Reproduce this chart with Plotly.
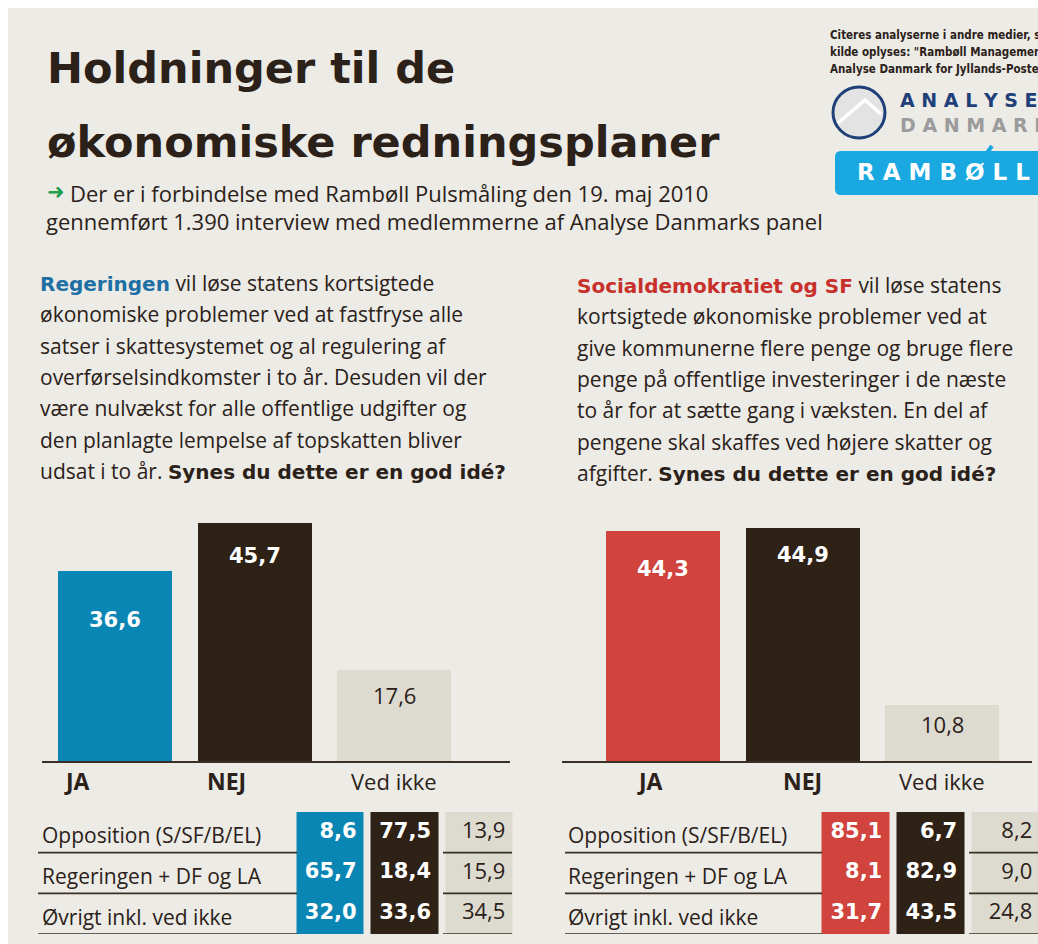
import plotly.graph_objects as go

# ---------------- data ----------------
categories = ["JA", "NEJ", "Ved ikke"]
regering_total = [36.6, 45.7, 17.6]
socdem_total = [44.3, 44.9, 10.8]

groups = ["Opposition (S/SF/B/EL)", "Regeringen + DF og LA", "Øvrigt inkl. ved ikke"]
regering_ja = [8.6, 65.7, 32.0]
regering_nej = [77.5, 18.4, 33.6]
regering_vedikke = [13.9, 15.9, 34.5]
socdem_ja = [85.1, 8.1, 31.7]
socdem_nej = [6.7, 82.9, 43.5]
socdem_vedikke = [8.2, 9.0, 24.8]

BOLD_SPAN = "<span style='font-family:DejaVu Sans;font-weight:bold;font-size:20px;{c}'>{t}</span>"

title_lines = ["Holdninger til de", "økonomiske redningsplaner"]
subtitle_lines = ["Der er i forbindelse med Rambøll Pulsmåling den 19. maj 2010",
                  "gennemført 1.390 interview med medlemmerne af Analyse Danmarks panel"]
left_text = [
    BOLD_SPAN.format(c="color:#1D6FA4", t="Regeringen") + " vil løse statens kortsigtede",
    "økonomiske problemer ved at fastfryse alle",
    "satser i skattesystemet og al regulering af",
    "overførselsindkomster i to år. Desuden vil der",
    "være nulvækst for alle offentlige udgifter og",
    "den planlagte lempelse af topskatten bliver",
    "udsat i to år. " + BOLD_SPAN.format(c="", t="Synes du dette er en god idé?"),
]
right_text = [
    BOLD_SPAN.format(c="color:#C8302B", t="Socialdemokratiet og SF") + " vil løse statens",
    "kortsigtede økonomiske problemer ved at",
    "give kommunerne flere penge og bruge flere",
    "penge på offentlige investeringer i de næste",
    "to år for at sætte gang i væksten. En del af",
    "pengene skal skaffes ved højere skatter og",
    "afgifter. " + BOLD_SPAN.format(c="", t="Synes du dette er en god idé?"),
]
source_lines = ["Citeres analyserne i andre medier, skal",
                "kilde oplyses: \"Rambøll Management/",
                "Analyse Danmark for Jyllands-Posten\""]

# ---------------- style ----------------
BG = "#ECEBE6"
BLUE = "#0A86B4"
DARK = "#2E2116"
LIGHT = "#DDDBD0"
RED = "#D1433D"
TXT = "#2B2119"
NAVY = "#1F3F78"
CYAN = "#19A8E0"
BODY = "Open Sans, Noto Sans, sans-serif"
HEAD = "DejaVu Sans, sans-serif"
NARROW = "Liberation Sans Narrow, DejaVu Sans Condensed, Roboto Condensed, Roboto, sans-serif"

W, H = 1030, 936
OFF = 8  # body margin of page


def px(x):
    return (x - OFF) / W


def py(y):
    return 1 - (y - OFF) / H


def fmt(v):
    return f"{v:.1f}".replace(".", ",")


fig = go.Figure()

# ---------------- main bars ----------------
fig.add_trace(go.Bar(x=categories, y=regering_total, marker_color=[BLUE, DARK, LIGHT],
                     marker_line_width=0, width=0.817, xaxis="x", yaxis="y", hoverinfo="skip"))
fig.add_trace(go.Bar(x=categories, y=socdem_total, marker_color=[RED, DARK, LIGHT],
                     marker_line_width=0, width=0.817, xaxis="x2", yaxis="y2", hoverinfo="skip"))

# ---------------- tables (heatmaps for coloured columns) ----------------
col_idx = list(range(len(categories)))
row_idx = list(range(len(groups)))
zcols = [col_idx for _ in groups]
scale_left = [[0, BLUE], [0.333, BLUE], [0.333, DARK], [0.666, DARK], [0.666, LIGHT], [1, LIGHT]]
scale_right = [[0, RED], [0.333, RED], [0.333, DARK], [0.666, DARK], [0.666, LIGHT], [1, LIGHT]]
fig.add_trace(go.Heatmap(x=col_idx, y=row_idx, z=zcols, colorscale=scale_left, zmin=0, zmax=2,
                         showscale=False, xgap=7, ygap=0, xaxis="x3", yaxis="y3", hoverinfo="skip"))
fig.add_trace(go.Heatmap(x=col_idx, y=row_idx, z=zcols, colorscale=scale_right, zmin=0, zmax=2,
                         showscale=False, xgap=7, ygap=0, xaxis="x4", yaxis="y4", hoverinfo="skip"))

RIGHT_EDGE = 0.35  # text anchor inside cell (right aligned)
for cols, xa, ya in [((regering_ja, regering_nej, regering_vedikke), "x3", "y3"),
                     ((socdem_ja, socdem_nej, socdem_vedikke), "x4", "y4")]:
    bx, by, bt, lx, ly, lt = [], [], [], [], [], []
    for ci, col in enumerate(cols):
        for ri, v in enumerate(col):
            if ci < 2:
                bx.append(ci + RIGHT_EDGE); by.append(ri); bt.append(f"<b>{fmt(v)}</b>")
            else:
                lx.append(ci + RIGHT_EDGE); ly.append(ri); lt.append(fmt(v))
    fig.add_trace(go.Scatter(x=bx, y=by, text=bt, mode="text", textposition="middle left",
                             textfont=dict(family=HEAD, size=21, color="white"),
                             xaxis=xa, yaxis=ya, hoverinfo="skip", cliponaxis=False))
    fig.add_trace(go.Scatter(x=lx, y=ly, text=lt, mode="text", textposition="middle left",
                             textfont=dict(family=BODY, size=22, color=TXT),
                             xaxis=xa, yaxis=ya, hoverinfo="skip", cliponaxis=False))

# ---------------- axes ----------------
bar_y_dom = [py(761), py(500.5)]
tab_y_dom = [py(934), py(812)]
hidden = dict(showgrid=False, zeroline=False, showticklabels=False, ticks="", fixedrange=True)
fig.update_layout(
    xaxis=dict(domain=[px(42), px(510)], range=[-0.523, 2.83], showline=True, linecolor="#3A3026",
               linewidth=2, anchor="y", **hidden),
    yaxis=dict(domain=bar_y_dom, range=[0, 50], visible=False, anchor="x"),
    xaxis2=dict(domain=[px(562), px(1032)], range=[-0.724, 2.645], showline=True, linecolor="#3A3026",
                linewidth=2, anchor="y2", **hidden),
    yaxis2=dict(domain=bar_y_dom, range=[0, 50], visible=False, anchor="x2"),
    xaxis3=dict(domain=[px(293.5), px(516.5)], range=[-0.5, 2.5], visible=False, anchor="y3"),
    yaxis3=dict(domain=tab_y_dom, range=[2.5, -0.5], visible=False, anchor="x3"),
    xaxis4=dict(domain=[px(818.5), 1.0], range=[-0.5, 2.427], visible=False, anchor="y4"),
    yaxis4=dict(domain=tab_y_dom, range=[2.5, -0.5], visible=False, anchor="x4"),
)

ann = []
shapes = []

# bar value labels
val_off_left = [50, 33, 26]
val_off_right = [39, 28, 19]
for vals, xa, ya, offs in [(regering_total, "x", "y", val_off_left), (socdem_total, "x2", "y2", val_off_right)]:
    for i, (c, v) in enumerate(zip(categories, vals)):
        light = i == 2
        ann.append(dict(x=c, y=v, xref=xa, yref=ya, yshift=-offs[i], showarrow=False,
                        text=fmt(v) if light else f"<b>{fmt(v)}</b>",
                        font=dict(family=BODY if light else HEAD, size=22 if light else 21,
                                  color=TXT if light else "white"),
                        xanchor="center", yanchor="middle"))

# category labels
cat_shift_left = [-38, -28, 0]
cat_shift_right = [-13, 0, 0]
for xa, shifts in [("x", cat_shift_left), ("x2", cat_shift_right)]:
    for i, c in enumerate(categories):
        bold = i < 2
        ann.append(dict(x=c, xref=xa, y=py(781), yref="paper", xshift=shifts[i], showarrow=False,
                        text=f"<b>{c}</b>" if bold else c,
                        font=dict(family=BODY, size=23 if bold else 22, color=TXT),
                        xanchor="center", yanchor="middle"))

# table row labels and lines
for ya, x0 in [("y3", 40), ("y4", 566)]:
    for i, g in enumerate(groups):
        ann.append(dict(x=px(x0), xref="paper", y=i, yref=ya, yshift=-3, showarrow=False, text=g,
                        font=dict(family=BODY, size=21, color=TXT), xanchor="left", yanchor="middle"))
for ya, segs in [("y3", [(38, 297), (443, 512)]), ("y4", [(565, 822), (969, 1040)])]:
    for i in range(len(groups)):
        for a, b in segs:
            shapes.append(dict(type="line", xref="paper", yref=ya, x0=px(a), x1=min(px(b), 1.0),
                               y0=i + 0.5, y1=i + 0.5, line=dict(color="#3A3026", width=1.6),
                               layer="above"))

# title
ann.append(dict(x=px(45), y=py(68), xref="paper", yref="paper", text=f"<b>{title_lines[0]}</b>",
                showarrow=False, xanchor="left", yanchor="middle",
                font=dict(family=HEAD, size=43, color=TXT)))
ann.append(dict(x=px(45), y=py(142), xref="paper", yref="paper", text=f"<b>{title_lines[1]}</b>",
                showarrow=False, xanchor="left", yanchor="middle",
                font=dict(family=HEAD, size=43, color=TXT)))

# subtitle
ann.append(dict(x=px(45), y=py(192), xref="paper", yref="paper", text="➜", showarrow=False,
                xanchor="left", yanchor="middle", font=dict(family=HEAD, size=21, color="#1E9E4E")))
ann.append(dict(x=px(68), y=py(193), xref="paper", yref="paper", text=subtitle_lines[0], showarrow=False,
                xanchor="left", yanchor="middle", font=dict(family=BODY, size=22, color=TXT)))
ann.append(dict(x=px(44), y=py(221), xref="paper", yref="paper", text=subtitle_lines[1], showarrow=False,
                xanchor="left", yanchor="middle", font=dict(family=BODY, size=22, color=TXT)))

# paragraphs
for lines, x0, y0 in [(left_text, 38, 283), (right_text, 575, 285)]:
    for i, t in enumerate(lines):
        ann.append(dict(x=px(x0), y=py(y0 + 31.3 * i), xref="paper", yref="paper", text=t,
                        showarrow=False, xanchor="left", yanchor="middle",
                        font=dict(family=BODY, size=21, color=TXT)))

# source note
for i, t in enumerate(source_lines):
    ann.append(dict(x=px(828), y=py(35 + 17 * i), xref="paper", yref="paper", text=f"<b>{t}</b>",
                    showarrow=False, xanchor="left", yanchor="middle",
                    font=dict(family=NARROW, size=11.5, color=TXT)))

# logos
shapes.append(dict(type="circle", xref="paper", yref="paper", x0=px(833), x1=px(885), y0=py(138), y1=py(87),
                   line=dict(color=NAVY, width=3), fillcolor="#E3E3E3", layer="above"))
shapes.append(dict(type="path", xref="paper", yref="paper",
                   path=f"M {px(838)},{py(123)} L {px(865)},{py(100)} L {px(881)},{py(114)}",
                   line=dict(color="white", width=3.5), layer="above"))
ann.append(dict(x=px(898), y=py(100), xref="paper", yref="paper", text="<b>A N A L Y S E</b>",
                showarrow=False, xanchor="left", yanchor="middle", font=dict(family=HEAD, size=19, color=NAVY)))
ann.append(dict(x=px(898), y=py(124.5), xref="paper", yref="paper", text="<b>D A N M A R K</b>",
                showarrow=False, xanchor="left", yanchor="middle", font=dict(family=HEAD, size=19, color="#9B9B9B")))

x0r, x1r, y0r, y1r, r = px(835), px(1050), py(151), py(195), 6
rx, ry = r / W, r / H
rr = (f"M {x0r + rx},{y0r} L {x1r},{y0r} L {x1r},{y1r} L {x0r + rx},{y1r} "
      f"Q {x0r},{y1r} {x0r},{y1r + ry} L {x0r},{y0r - ry} Q {x0r},{y0r} {x0r + rx},{y0r} Z")
shapes.append(dict(type="path", xref="paper", yref="paper", path=rr, fillcolor=CYAN,
                   line=dict(width=0), layer="above"))
shapes.append(dict(type="path", xref="paper", yref="paper",
                   path=f"M {px(992)},{py(146)} L {px(983)},{py(158)}",
                   line=dict(color=CYAN, width=4), layer="above"))
ann.append(dict(x=px(855), y=py(172), xref="paper", yref="paper",
                text="<b>R A M B Ø L L</b>",
                showarrow=False, xanchor="left", yanchor="middle",
                font=dict(family=HEAD, size=23, color="white")))

fig.update_layout(
    width=W, height=H, margin=dict(l=0, r=0, t=0, b=0),
    paper_bgcolor=BG, plot_bgcolor="rgba(0,0,0,0)",
    showlegend=False, annotations=ann, shapes=shapes, bargap=0,
)

page_fix = (
    "document.body.style.setProperty('width','1030px','important');"
    "document.body.style.setProperty('overflow','visible','important');"
    "document.documentElement.style.setProperty('overflow','visible','important');"
)
fig.write_html("out.html", config={"displayModeBar": False}, post_script=page_fix)
